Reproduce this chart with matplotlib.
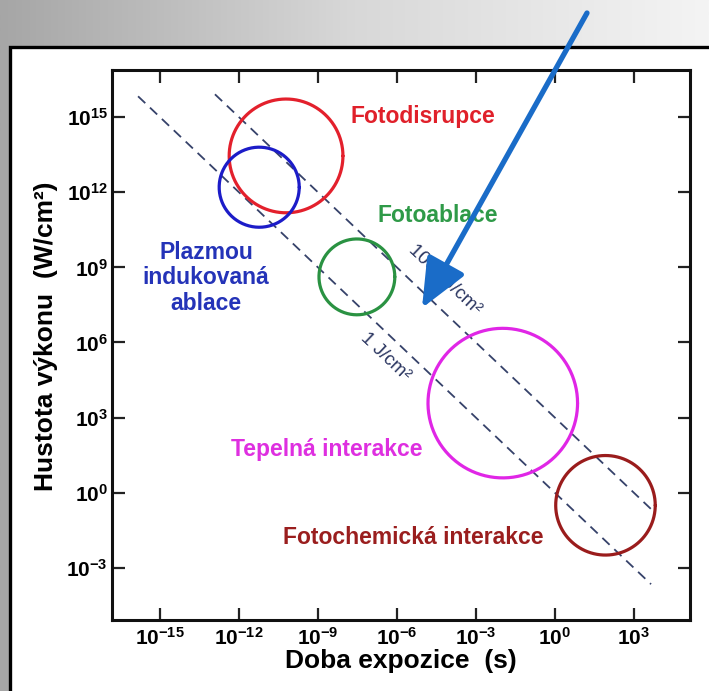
import numpy as np
import matplotlib
matplotlib.use("Agg")
import matplotlib.pyplot as plt
from matplotlib.patches import Rectangle, FancyArrowPatch, ArrowStyle
from matplotlib.ticker import FixedLocator, FixedFormatter, NullLocator
from matplotlib.colors import LinearSegmentedColormap

plt.rcParams['font.family'] = ['Liberation Sans', 'DejaVu Sans']
plt.rcParams['mathtext.fontset'] = 'custom'
plt.rcParams['mathtext.rm'] = 'Liberation Sans'
plt.rcParams['mathtext.bf'] = 'Liberation Sans:bold'

# ---------------- data ----------------
x_tick_exp = [-15, -12, -9, -6, -3, 0, 3]
y_tick_exp = [15, 12, 9, 6, 3, 0, -3]
x_tick_labels = [r'$\mathbf{10^{-15}}$', r'$\mathbf{10^{-12}}$', r'$\mathbf{10^{-9}}$',
                 r'$\mathbf{10^{-6}}$', r'$\mathbf{10^{-3}}$', r'$\mathbf{10^{0}}$',
                 r'$\mathbf{10^{3}}$']
y_tick_labels = [r'$\mathbf{10^{15}}$', r'$\mathbf{10^{12}}$', r'$\mathbf{10^{9}}$',
                 r'$\mathbf{10^{6}}$', r'$\mathbf{10^{3}}$', r'$\mathbf{10^{0}}$',
                 r'$\mathbf{10^{-3}}$']

# regions: centre (log10 t, log10 I) and radius in decades of time
region_names = ['Fotodisrupce', 'Plazmou\nindukovaná\nablace', 'Fotoablace',
                'Tepelná interakce', 'Fotochemická interakce']
region_logt = [-10.21, -11.23, -7.52, -1.98, 1.92]
region_logI = [13.45, 12.2, 8.62, 3.58, -0.5]
region_radius = [2.16, 1.52, 1.44, 2.84, 1.89]
region_colors = ['#e3202c', '#1c1cc8', '#2a9242', '#e026e6', '#9a1c1c']
region_text_colors = ['#e0202a', '#2433b8', '#2f9a48', '#de2fe0', '#9a1e1e']

# constant-fluence lines (J/cm^2): I = F / t
fluence_values = [1.0, 1000.0]
fluence_labels = ['1 J/cm²', '1000 J/cm²']
fluence_logt_start = [-15.83, -12.91]
fluence_logt_end = [3.65, 3.65]

# ---------------- figure ----------------
W, H = 709, 691
fig = plt.figure(figsize=(W / 100, H / 100), dpi=100)

# background gradient
bg = fig.add_axes([0, 0, 1, 1], zorder=-10)
grad = np.linspace(0, 1, 256)[None, :]
cmap = LinearSegmentedColormap.from_list('g', ['#a6a6a6', '#d8d8d8', '#f4f4f4'])
bg.imshow(grad, aspect='auto', cmap=cmap, extent=[0, 1, 0, 1])
bg.set_xlim(0, 1); bg.set_ylim(0, 1)
bg.axis('off')
# white panel
bg.add_patch(Rectangle((9.5 / W, -0.1), 1.2, 1.1 - 47 / H, facecolor='white',
                       edgecolor='black', linewidth=2.4, transform=bg.transAxes))

ax = fig.add_axes([112 / W, 1 - 620 / H, (690 - 112) / W, (620 - 70) / H])
ax.set_facecolor('none')
ax.set_xscale('log')
ax.set_yscale('log')
xmin, xmax = -16.82, 5.13
ymin, ymax = -5.08, 16.88
ax.set_xlim(10 ** xmin, 10 ** xmax)
ax.set_ylim(10 ** ymin, 10 ** ymax)

ax.xaxis.set_major_locator(FixedLocator([10.0 ** e for e in x_tick_exp]))
ax.xaxis.set_major_formatter(FixedFormatter(x_tick_labels))
ax.xaxis.set_minor_locator(NullLocator())
ax.yaxis.set_major_locator(FixedLocator([10.0 ** e for e in y_tick_exp]))
ax.yaxis.set_major_formatter(FixedFormatter(y_tick_labels))
ax.yaxis.set_minor_locator(NullLocator())
ax.tick_params(which='major', direction='in', length=9, width=1.6,
               top=True, right=True, labelsize=15, color='#222222')
ax.tick_params(axis='x', pad=5)
ax.tick_params(axis='y', pad=3)
for s in ax.spines.values():
    s.set_linewidth(2.2)
    s.set_color('#111111')

ax.set_xlabel('Doba expozice  (s)', fontsize=19, fontweight='bold', labelpad=0)
ax.set_ylabel('Hustota výkonu  (W/cm²)', fontsize=19, fontweight='bold')
ax.yaxis.set_label_coords(-0.093, 0.516)

# aspect correction so circles are round on screen
ax_w_px = 690 - 112
ax_h_px = 620 - 70
px_x = ax_w_px / (xmax - xmin)
px_y = ax_h_px / (ymax - ymin)

theta = np.linspace(0, 2 * np.pi, 300)
for cx, cy, r, c in zip(region_logt, region_logI, region_radius, region_colors):
    ry = r * px_x / px_y
    ax.plot(10 ** (cx + r * np.cos(theta)), 10 ** (cy + ry * np.sin(theta)),
            color=c, lw=2.3, solid_capstyle='round', zorder=3)

for F, t0, t1 in zip(fluence_values, fluence_logt_start, fluence_logt_end):
    t = np.array([10 ** t0, 10 ** t1])
    ax.plot(t, F / t, color='#36426a', lw=1.3, dashes=(5.5, 3.6), zorder=2)

# region labels
label_pos = [(-5.01, 15.04), (-13.25, 8.58), (-4.44, 11.09), (-8.65, 1.72), (-5.39, -1.80)]
for name, (lx, ly), c in zip(region_names, label_pos, region_text_colors):
    ax.text(10 ** lx, 10 ** ly, name, color=c, fontsize=16.5, fontweight='bold',
            ha='center', va='center', linespacing=1.15, zorder=4)

# fluence labels
ang = -np.degrees(np.arctan(px_y / px_x))
fl_pos = [(-6.45, 5.43), (-4.2, 8.5)]
for lab, (lx, ly) in zip(fluence_labels, fl_pos):
    ax.text(10 ** lx, 10 ** ly, lab, color='#2a3560', fontsize=13.5,
            rotation=ang, ha='center', va='center', rotation_mode='anchor', zorder=4)

# blue arrow
arrow = FancyArrowPatch((587 / W, 1 - 13 / H), (422 / W, 1 - 308 / H),
                        transform=fig.transFigure,
                        arrowstyle=ArrowStyle('-|>', head_length=30, head_width=13),
                        mutation_scale=1, color='#1a6cc8', lw=3.8,
                        shrinkA=0, shrinkB=0, zorder=20)
fig.add_artist(arrow)

fig.savefig('out.png', dpi=100)
